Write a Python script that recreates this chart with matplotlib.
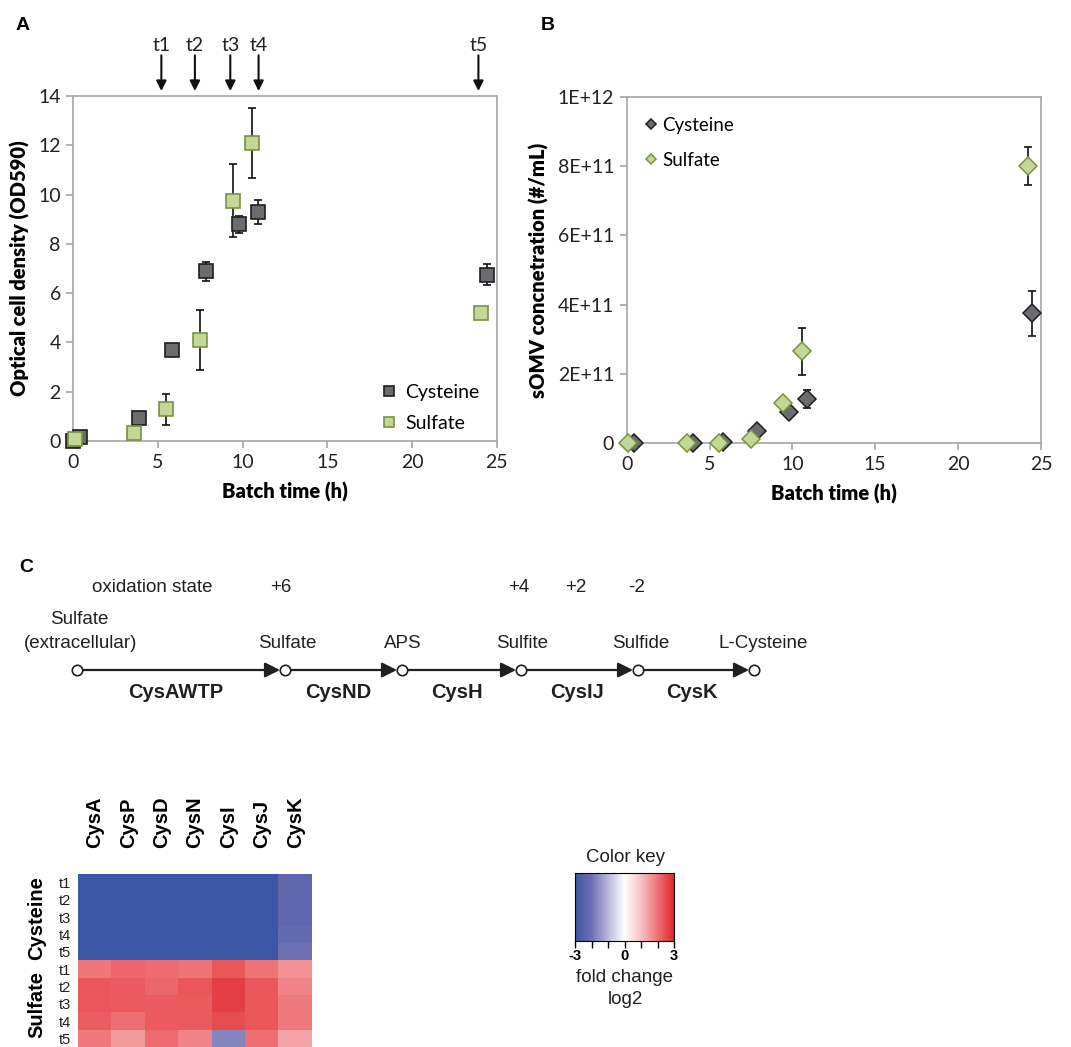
import numpy as np
import matplotlib
matplotlib.use("Agg")
import matplotlib.pyplot as plt
from matplotlib.colors import LinearSegmentedColormap

# ---------------- data ----------------
# Panel A: optical density
cys_od_t = [0.0, 0.4, 3.9, 5.85, 7.85, 9.8, 10.9, 24.45]
cys_od = [0.0, 0.17, 0.92, 3.7, 6.88, 8.8, 9.3, 6.75]
cys_od_err = [0, 0, 0, 0, 0.37, 0.35, 0.5, 0.43]
sul_od_t = [0.12, 3.6, 5.5, 7.5, 9.45, 10.55, 24.1]
sul_od = [0.08, 0.34, 1.28, 4.1, 9.75, 12.1, 5.18]
sul_od_err = [0, 0, 0.62, 1.2, 1.48, 1.42, 0]

# sampling time points
tp_labels = ["t1", "t2", "t3", "t4", "t5"]
tp_times = [5.2, 7.18, 9.27, 10.94, 23.92]

# Panel B: sOMV concentration
cys_omv_t = [0.46, 3.98, 5.8, 7.85, 9.8, 10.88, 24.48]
cys_omv = [0.0, 0.0, 0.004e12, 0.035e12, 0.09e12, 0.128e12, 0.375e12]
cys_omv_err = [0, 0, 0, 0, 0, 0.026e12, 0.064e12]
sul_omv_t = [0.1, 3.62, 5.55, 7.5, 9.43, 10.56, 24.2]
sul_omv = [0.0, 0.0, 0.0, 0.0115e12, 0.115e12, 0.266e12, 0.80e12]
sul_omv_err = [0, 0, 0, 0, 0, 0.068e12, 0.055e12]
b_yticks = [0, 2e11, 4e11, 6e11, 8e11, 1e12]
b_yticklabels = ["0", "2E+11", "4E+11", "6E+11", "8E+11", "1E+12"]

# Panel C: pathway
ox_labels = ["oxidation state", "+6", "+4", "+2", "-2"]
metabolites = ["(extracellular)", "Sulfate", "APS", "Sulfite", "Sulfide", "L-Cysteine"]
extracellular_top = "Sulfate"
enzymes = ["CysAWTP", "CysND", "CysH", "CysIJ", "CysK"]

# heatmap (log2 fold change)
genes = ["CysA", "CysP", "CysD", "CysN", "CysI", "CysJ", "CysK"]
times = ["t1", "t2", "t3", "t4", "t5"]
fc_cysteine = [
    [-3.5, -3.5, -3.5, -3.5, -3.5, -3.5, -2.3],
    [-3.5, -3.5, -3.5, -3.5, -3.5, -3.5, -2.3],
    [-3.5, -3.5, -3.5, -3.5, -3.5, -3.5, -2.3],
    [-3.5, -3.5, -3.5, -3.5, -3.5, -3.5, -2.2],
    [-3.5, -3.5, -3.5, -3.5, -3.5, -3.5, -2.0],
]
fc_sulfate = [
    [1.95, 2.15, 2.1, 2.0, 2.35, 2.0, 1.6],
    [2.35, 2.3, 2.15, 2.35, 2.65, 2.35, 1.8],
    [2.35, 2.3, 2.3, 2.3, 2.65, 2.35, 1.9],
    [2.25, 2.05, 2.3, 2.3, 2.5, 2.35, 1.9],
    [1.9, 1.5, 2.1, 1.8, -1.7, 2.05, 1.4],
]

# ---------------- figure ----------------
W, H = 1071, 1047
fig = plt.figure(figsize=(W / 100, H / 100), dpi=100)

def fx(px):
    return px / W

def fy(py):
    return 1 - py / H

CALI = ["Lato", "DejaVu Sans"]
ARIAL = ["Liberation Sans", "DejaVu Sans"]

cys_face, cys_edge = "#6b6c6f", "#1e1e1e"
sul_face, sul_edge = "#c4d79b", "#77933c"
spine_col = "#a6a6a6"

def style_excel(ax):
    for s in ax.spines.values():
        s.set_color(spine_col)
        s.set_linewidth(1.2)
    ax.tick_params(direction="out", color=spine_col, length=5, width=1.2,
                   labelsize=14, labelcolor="#222222", pad=4)
    for lab in ax.get_xticklabels() + ax.get_yticklabels():
        lab.set_family(CALI)

# ---- Panel A ----
axA = fig.add_axes([fx(73.3), fy(441), fx(496.7 - 73.3), (441 - 96) / H])
axA.errorbar(cys_od_t, cys_od, yerr=cys_od_err, fmt="none", ecolor="#111111",
             elinewidth=1.2, capsize=3, capthick=1.2, zorder=2, clip_on=False)
axA.errorbar(sul_od_t, sul_od, yerr=sul_od_err, fmt="none", ecolor="#111111",
             elinewidth=1.2, capsize=3, capthick=1.2, zorder=2, clip_on=False)
axA.plot(cys_od_t, cys_od, ls="none", marker="s", ms=9.5, mfc=cys_face,
         mec=cys_edge, mew=1.2, label="Cysteine", zorder=3, clip_on=False)
axA.plot(sul_od_t, sul_od, ls="none", marker="s", ms=9.5, mfc=sul_face,
         mec=sul_edge, mew=1.2, label="Sulfate", zorder=4, clip_on=False)
axA.set_xlim(0, 25)
axA.set_ylim(0, 14)
axA.set_xticks([0, 5, 10, 15, 20, 25])
axA.set_yticks(range(0, 15, 2))
style_excel(axA)
axA.set_xlabel("Batch time (h)", fontsize=14.5, fontweight="heavy", family=CALI, labelpad=8)
axA.set_ylabel("Optical cell density (OD590)", fontsize=14.5, fontweight="heavy", family=CALI, labelpad=6)
axA.legend(loc="lower right", bbox_to_anchor=(1.0, -0.025), frameon=False,
           prop={"family": CALI, "size": 14}, markerscale=0.75,
           handletextpad=0.4, labelspacing=0.75, handlelength=0.8)
for t, lab in zip(tp_times, tp_labels):
    axA.annotate("", xy=(t, 14.2), xytext=(t, 15.65), annotation_clip=False,
                 arrowprops=dict(arrowstyle="-|>,head_length=0.6,head_width=0.3",
                                 color="#111111", lw=1.5, shrinkA=0, shrinkB=0))
    axA.text(t, 16.05, lab, ha="center", va="center", fontsize=14, family=CALI,
             color="#222222", clip_on=False)

# ---- Panel B ----
axB = fig.add_axes([fx(626.7), fy(443.3), fx(1041 - 626.7), (443.3 - 96.7) / H])
axB.errorbar(cys_omv_t, cys_omv, yerr=cys_omv_err, fmt="none", ecolor="#111111",
             elinewidth=1.2, capsize=3, capthick=1.2, zorder=2, clip_on=False)
axB.errorbar(sul_omv_t, sul_omv, yerr=sul_omv_err, fmt="none", ecolor="#111111",
             elinewidth=1.2, capsize=3, capthick=1.2, zorder=2, clip_on=False)
axB.plot(cys_omv_t, cys_omv, ls="none", marker="D", ms=9, mfc=cys_face,
         mec=cys_edge, mew=1.1, label="Cysteine", zorder=3, clip_on=False)
axB.plot(sul_omv_t, sul_omv, ls="none", marker="D", ms=9, mfc=sul_face,
         mec=sul_edge, mew=1.1, label="Sulfate", zorder=4, clip_on=False)
axB.set_xlim(0, 25)
axB.set_ylim(0, 1e12)
axB.set_xticks([0, 5, 10, 15, 20, 25])
axB.set_yticks(b_yticks)
axB.set_yticklabels(b_yticklabels)
style_excel(axB)
axB.set_xlabel("Batch time (h)", fontsize=14.5, fontweight="heavy", family=CALI, labelpad=8)
axB.set_ylabel("sOMV concnetration (#/mL)", fontsize=14.5, fontweight="heavy", family=CALI, labelpad=6)
axB.legend(loc="upper left", bbox_to_anchor=(0.0, 0.99), frameon=False,
           prop={"family": CALI, "size": 13.5}, markerscale=0.6,
           handletextpad=0.2, labelspacing=0.95, handlelength=0.8)

# ---- overlay for panel letters and pathway ----
ov = fig.add_axes([0, 0, 1, 1], zorder=-1)
ov.set_xlim(0, W)
ov.set_ylim(H, 0)
ov.axis("off")
for lab, (x, y) in zip(["A", "B", "C"], [(23, 25), (548, 25), (26, 568)]):
    ov.text(x, y, lab, fontsize=14, fontweight="bold", family=ARIAL, ha="center", va="center")

ox_x = [152, 281, 519, 576, 637]
for lab, x in zip(ox_labels, ox_x):
    ov.text(x, 588, lab, fontsize=13.5, family=ARIAL, ha="center", va="center", color="#231f20")

node_x = [77, 285, 402, 521, 638, 754]
line_y = 670
for i in range(len(node_x) - 1):
    ov.annotate("", xy=(node_x[i + 1] - 5, line_y), xytext=(node_x[i] + 4, line_y),
                arrowprops=dict(arrowstyle="-|>,head_length=0.9,head_width=0.45",
                                color="#231f20", lw=1.6, shrinkA=0, shrinkB=0))
ov.plot(node_x, [line_y] * len(node_x), ls="none", marker="o", ms=7.5,
        mfc="white", mec="#231f20", mew=1.2, zorder=5)
met_x = [81, 287, 403, 522, 641, 763]
for lab, x in zip(metabolites, met_x):
    ov.text(x, 644, lab, fontsize=13.5, family=ARIAL,
            ha="center", va="center", color="#231f20")
ov.text(79, 620, extracellular_top, fontsize=13.5, family=ARIAL,
        ha="center", va="center", color="#231f20")
enz_x = [176, 338, 457, 577, 692]
for lab, x in zip(enzymes, enz_x):
    ov.text(x, 693, lab, fontsize=14.5, fontweight="bold", family=ARIAL,
            ha="center", va="center", color="#231f20")

# ---- heatmap ----
cmap = LinearSegmentedColormap.from_list(
    "bwr_key",
    [(0.0, "#3c56a6"), (1 / 6, "#6e6fb3"), (2 / 6, "#b9b7dc"), (0.5, "#ffffff"),
     (4 / 6, "#f8c3c5"), (5 / 6, "#ef7478"), (1.0, "#e0252b")])
mat = np.array(fc_cysteine + fc_sulfate)
hm_top, hm_bot = 874, 1047
axH = fig.add_axes([fx(78), fy(hm_bot), fx(312 - 78), (hm_bot - hm_top) / H])
axH.imshow(mat, cmap=cmap, vmin=-3, vmax=3, aspect="auto", interpolation="nearest")
axH.set_xticks(range(len(genes)))
axH.set_xticklabels(genes, rotation=90, fontsize=14.5, fontweight="bold", family=ARIAL)
axH.xaxis.set_ticks_position("top")
axH.xaxis.set_label_position("top")
axH.set_yticks(range(mat.shape[0]))
axH.set_yticklabels(times + times, fontsize=10.5, family=ARIAL, color="#231f20")
axH.tick_params(length=0, pad=5)
axH.tick_params(axis="x", pad=19)
for s in axH.spines.values():
    s.set_visible(False)
axH.text(-0.175, 0.745, "Cysteine", transform=axH.transAxes, rotation=90, fontsize=14.5,
         fontweight="bold", family=ARIAL, ha="center", va="center")
axH.text(-0.175, 0.245, "Sulfate", transform=axH.transAxes, rotation=90, fontsize=14.5,
         fontweight="bold", family=ARIAL, ha="center", va="center")

# ---- color key ----
axK = fig.add_axes([fx(575), fy(941), fx(674 - 575), (941 - 873) / H])
grad = np.linspace(-3, 3, 256)[None, :]
axK.imshow(grad, cmap=cmap, vmin=-3, vmax=3, aspect="auto", extent=[-3, 3, 0, 1])
axK.set_xticks(range(-3, 4))
axK.set_xticklabels(["-3", "", "", "0", "", "", "3"], fontsize=10.5, fontweight="bold", family=ARIAL)
axK.set_yticks([])
axK.tick_params(axis="x", direction="out", length=5, width=1, pad=1)
for s in axK.spines.values():
    s.set_linewidth(0.8)
ov.text(625, 858, "Color key", fontsize=13.5, family=ARIAL, ha="center", va="center", color="#231f20")
ov.text(625, 978, "fold change", fontsize=13.5, family=ARIAL, ha="center", va="center", color="#231f20")
ov.text(625, 1000, "log2", fontsize=13.5, family=ARIAL, ha="center", va="center", color="#231f20")

fig.savefig("out.png", dpi=100)
